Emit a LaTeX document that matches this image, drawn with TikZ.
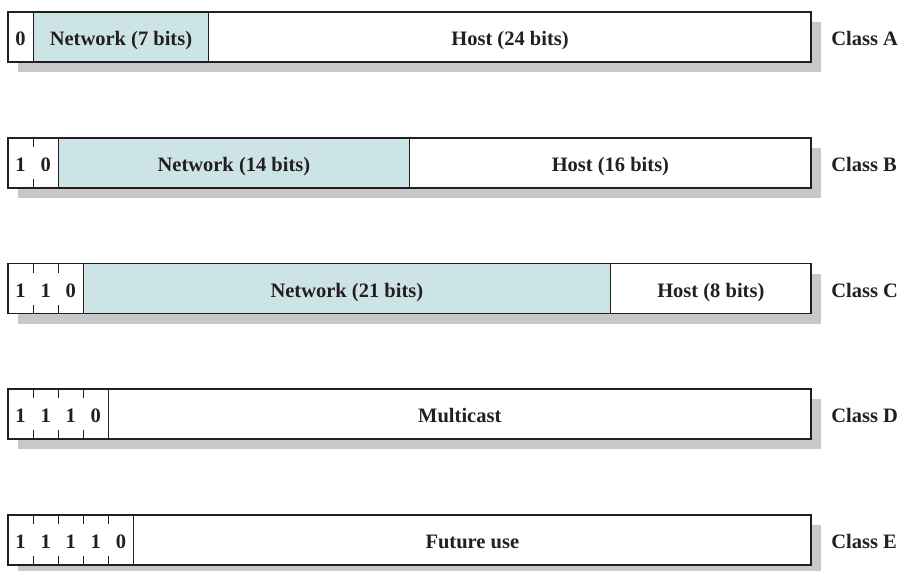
\documentclass[tikz,border=0pt]{standalone}
\usepackage{fontspec}
\setmainfont{Liberation Serif}
\usetikzlibrary{positioning,shadows}
\definecolor{FieldBlue}{RGB}{205,228,231}
\definecolor{ShadowGray}{RGB}{200,200,202}
\definecolor{InkBlack}{RGB}{35,31,32}
\tikzset{
  frame/.style={minimum width=803.2pt,minimum height=50pt,inner sep=0pt,outer sep=0pt,
    fill=white,drop shadow={shadow xshift=10pt,shadow yshift=-10pt,fill=ShadowGray,opacity=1}},
  outline/.style={line width=1.8pt,draw=InkBlack},
  bitcell/.style={minimum width=25.1pt,minimum height=50pt,inner sep=0pt,outer sep=0pt,
    text height=18pt,text depth=1pt,
    font=\fontsize{20.5}{24}\selectfont\bfseries,text=InkBlack},
  field/.style={draw=InkBlack,line width=0.9pt,minimum width=#1,minimum height=50pt,
    inner sep=0pt,outer sep=0pt,text height=18pt,text depth=1pt,
    font=\fontsize{20.5}{24}\selectfont\bfseries,text=InkBlack},
  netfield/.style={field=#1,fill=FieldBlue},
  hostfield/.style={field=#1,fill=white},
  tick/.style={line width=0.9pt,draw=InkBlack},
  classlabel/.style={inner sep=0pt,text height=18pt,text depth=1pt,
    font=\fontsize{20.5}{24}\selectfont\bfseries,text=InkBlack}
}

\begin{document}
\begin{tikzpicture}[x=1pt,y=1pt]
  \useasboundingbox (0,0) rectangle (901,-570);

  % Class A
  \node[frame] (rowA) at (409.6,-37) {};
  \node[bitcell,right=0pt of rowA.west] (a1) {0};
  \node[netfield=175.7pt,right=0pt of a1] (netA) {Network (7 bits)};
  \node[hostfield=602.4pt,right=0pt of netA] (hostA) {Host (24 bits)};
  \draw[outline] (rowA.north west) rectangle (rowA.south east);
  \node[classlabel,right=20pt of rowA] (labA) {Class A};

  % Class B
  \node[frame] (rowB) at (409.6,-162.75) {};
  \node[bitcell,right=0pt of rowB.west] (b1) {1};
  \node[bitcell,right=0pt of b1] (b2) {0};
  \node[netfield=351.4pt,right=0pt of b2] (netB) {Network (14 bits)};
  \node[hostfield=401.6pt,right=0pt of netB] (hostB) {Host (16 bits)};
  \foreach \c in {b1} {
    \draw[tick] (\c.north east) -- ++(0,-9pt);
    \draw[tick] (\c.south east) -- ++(0,9pt);
  }
  \draw[outline] (rowB.north west) rectangle (rowB.south east);
  \node[classlabel,right=20pt of rowB] (labB) {Class B};

  % Class C
  \node[frame] (rowC) at (409.6,-288.5) {};
  \node[bitcell,right=0pt of rowC.west] (c1) {1};
  \node[bitcell,right=0pt of c1] (c2) {1};
  \node[bitcell,right=0pt of c2] (c3) {0};
  \node[netfield=527.1pt,right=0pt of c3] (netC) {Network (21 bits)};
  \node[hostfield=200.8pt,right=0pt of netC] (hostC) {Host (8 bits)};
  \foreach \c in {c1,c2} {
    \draw[tick] (\c.north east) -- ++(0,-9pt);
    \draw[tick] (\c.south east) -- ++(0,9pt);
  }
  \draw[outline] (rowC.north west) rectangle (rowC.south east);
  \node[classlabel,right=20pt of rowC] (labC) {Class C};

  % Class D
  \node[frame] (rowD) at (409.6,-414.25) {};
  \node[bitcell,right=0pt of rowD.west] (d1) {1};
  \node[bitcell,right=0pt of d1] (d2) {1};
  \node[bitcell,right=0pt of d2] (d3) {1};
  \node[bitcell,right=0pt of d3] (d4) {0};
  \node[hostfield=702.8pt,right=0pt of d4] (castD) {Multicast};
  \foreach \c in {d1,d2,d3} {
    \draw[tick] (\c.north east) -- ++(0,-9pt);
    \draw[tick] (\c.south east) -- ++(0,9pt);
  }
  \draw[outline] (rowD.north west) rectangle (rowD.south east);
  \node[classlabel,right=20pt of rowD] (labD) {Class D};

  % Class E
  \node[frame] (rowE) at (409.6,-540) {};
  \node[bitcell,right=0pt of rowE.west] (e1) {1};
  \node[bitcell,right=0pt of e1] (e2) {1};
  \node[bitcell,right=0pt of e2] (e3) {1};
  \node[bitcell,right=0pt of e3] (e4) {1};
  \node[bitcell,right=0pt of e4] (e5) {0};
  \node[hostfield=677.7pt,right=0pt of e5] (futE) {Future use};
  \foreach \c in {e1,e2,e3,e4} {
    \draw[tick] (\c.north east) -- ++(0,-9pt);
    \draw[tick] (\c.south east) -- ++(0,9pt);
  }
  \draw[outline] (rowE.north west) rectangle (rowE.south east);
  \node[classlabel,right=20pt of rowE] (labE) {Class E};
\end{tikzpicture}
\end{document}
